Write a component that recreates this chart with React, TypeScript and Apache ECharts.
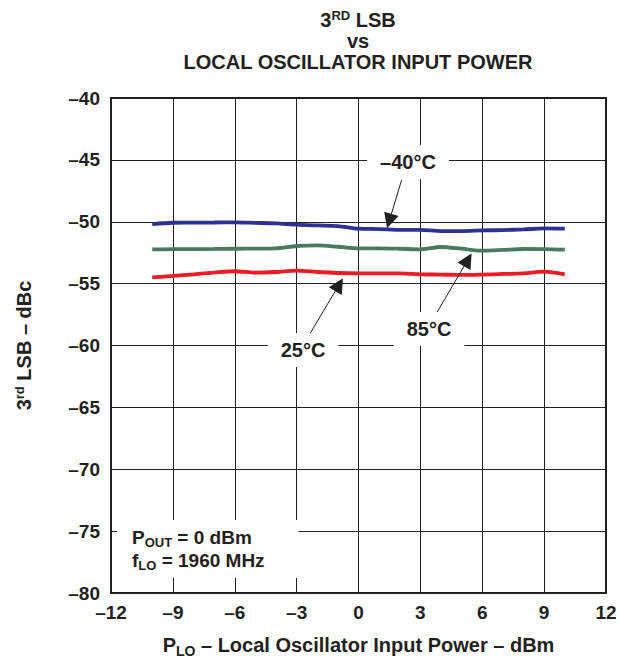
import React, { useEffect, useRef } from "react";
import * as echarts from "echarts";

const xValues = [-10, -9, -8, -7, -6, -5, -4, -3, -2, -1, 0, 1, 2, 3, 4, 5, 6, 7, 8, 9, 10];
const minus40 = [-50.19, -50.08, -50.07, -50.06, -50.05, -50.09, -50.13, -50.24, -50.3, -50.35, -50.56, -50.59, -50.65, -50.65, -50.75, -50.75, -50.7, -50.67, -50.62, -50.54, -50.56];
const plus85 = [-52.23, -52.22, -52.21, -52.2, -52.18, -52.17, -52.15, -51.96, -51.91, -52.02, -52.15, -52.15, -52.18, -52.23, -52.04, -52.18, -52.34, -52.28, -52.2, -52.21, -52.26];
const plus25 = [-54.49, -54.38, -54.25, -54.11, -54.0, -54.11, -54.06, -53.95, -54.06, -54.14, -54.17, -54.17, -54.17, -54.25, -54.27, -54.3, -54.27, -54.22, -54.17, -54.03, -54.25];

const xTicks = { min: -12, max: 12, interval: 3 };
const yTicks = { min: -80, max: -40, interval: 5 };

const curveLabels = [
  { name: "–40°C", coord: [2.4, -45.17] },
  { name: "85°C", coord: [3.42, -58.67] },
  { name: "25°C", coord: [-2.69, -60.36] },
];
const arrows = [
  { from: [2.09, -46.63], to: [1.49, -49.95] },
  { from: [3.76, -57.45], to: [5.3, -53.08] },
  { from: [-2.39, -59.15], to: [-0.94, -55.08] },
];
const conditionCoord = [-11.71, -76.44];

const FONT = "'Liberation Sans', Arial, Helvetica, sans-serif";
const INK = "#231f20";

const fmt = (v: number) => (v < 0 ? "–" + Math.abs(v) : String(v));

export default function App() {
  const ref = useRef<HTMLDivElement>(null);
  useEffect(() => {
    if (!ref.current) return;
    const chart = echarts.init(ref.current, undefined, { renderer: "svg" });
    const base = { fontFamily: FONT, fontWeight: "bold" as const, color: INK };
    const pairs = (ys: number[]) => xValues.map((x, i) => [x, ys[i]]);
    chart.setOption({
      animation: false,
      backgroundColor: "#ffffff",
      title: {
        left: 358,
        top: 9,
        padding: 0,
        textAlign: "center",
        text: "{b|3}{sup|RD}{b| LSB}\n{b|vs}\n{b|LOCAL OSCILLATOR INPUT POWER}",
        textStyle: {
          rich: {
            b: { ...base, fontSize: 20, lineHeight: 21, verticalAlign: "bottom" },
            sup: { ...base, fontSize: 13, lineHeight: 13, verticalAlign: "top" },
          },
        },
      },
      grid: {
        left: 111,
        right: 13,
        top: 98,
        bottom: 67,
        containLabel: false,
        outerBoundsMode: "none",
        show: true,
        borderColor: INK,
        borderWidth: 2,
        backgroundColor: "transparent",
      },
      xAxis: {
        type: "value",
        min: xTicks.min,
        max: xTicks.max,
        interval: xTicks.interval,
        axisLine: { show: false },
        axisTick: { show: false },
        splitLine: { show: true, lineStyle: { color: INK, width: 1 } },
        axisLabel: { ...base, fontSize: 19, margin: 10, formatter: fmt },
        name: "{b|P}{sub|LO}{b| – Local Oscillator Input Power – dBm}",
        nameLocation: "middle",
        nameGap: 44,
        nameTextStyle: {
          rich: {
            b: { ...base, fontSize: 20, lineHeight: 21, verticalAlign: "bottom", padding: [0, 0, 3, 0] },
            sub: { ...base, fontSize: 14, lineHeight: 15, verticalAlign: "bottom" },
          },
        },
      },
      yAxis: {
        type: "value",
        min: yTicks.min,
        max: yTicks.max,
        interval: yTicks.interval,
        axisLine: { show: false },
        axisTick: { show: false },
        splitLine: { show: true, lineStyle: { color: INK, width: 1 } },
        axisLabel: { ...base, fontSize: 19, margin: 11, formatter: fmt },
        name: "{b|3}{sup|rd}{b| LSB – dBc}",
        nameLocation: "middle",
        nameGap: 77,
        nameTextStyle: {
          rich: {
            b: { ...base, fontSize: 20, lineHeight: 21, verticalAlign: "bottom" },
            sup: { ...base, fontSize: 13, lineHeight: 13, verticalAlign: "top" },
          },
        },
      },
      series: [
        {
          name: "-40°C",
          type: "line",
          data: pairs(minus40),
          showSymbol: false,
          smooth: 0.3,
          lineStyle: { color: "#2e3192", width: 3.8 },
          z: 3,
          markLine: {
            silent: true,
            symbol: ["none", "triangle"],
            symbolSize: 15,
            label: { show: false },
            itemStyle: { color: INK },
            lineStyle: { color: INK, width: 1, type: "solid" },
            data: arrows.map((a) => [
              { coord: a.from, symbol: "none" },
              { coord: a.to, symbol: "triangle", symbolSize: 15 },
            ]),
          },
          markPoint: {
            silent: true,
            symbol: "rect",
            symbolSize: 1,
            itemStyle: { color: "rgba(0,0,0,0)" },
            label: {
              show: true,
              position: "inside",
              formatter: "{b}",
              ...base,
              fontSize: 20,
              backgroundColor: "#ffffff",
              padding: [7, 13],
            },
            data: [
              ...curveLabels.map((l) => ({ name: l.name, coord: l.coord })),
              {
                name: "cond",
                coord: conditionCoord,
                label: {
                  formatter: "{b|P}{sub|OUT}{b| = 0 dBm}\n{b|f}{sub|LO}{b| = 1960 MHz}",
                  backgroundColor: "#ffffff",
                  padding: [6, 34, 6, 15],
                  align: "left",
                  rich: {
                    b: { ...base, fontSize: 19, lineHeight: 23, verticalAlign: "bottom", padding: [0, 0, 2, 0] },
                    sub: { ...base, fontSize: 13, lineHeight: 14, verticalAlign: "bottom" },
                  },
                },
              },
            ],
          },
        },
        {
          name: "85°C",
          type: "line",
          data: pairs(plus85),
          showSymbol: false,
          smooth: 0.3,
          lineStyle: { color: "#4a7a5c", width: 3.8 },
          z: 3,
        },
        {
          name: "25°C",
          type: "line",
          data: pairs(plus25),
          showSymbol: false,
          smooth: 0.3,
          lineStyle: { color: "#ed1c24", width: 3.8 },
          z: 3,
        },
      ],
    });
    return () => chart.dispose();
  }, []);
  return <div ref={ref} style={{ width: 619, height: 660, position: "absolute", left: 0, top: 0 }} />;
}
